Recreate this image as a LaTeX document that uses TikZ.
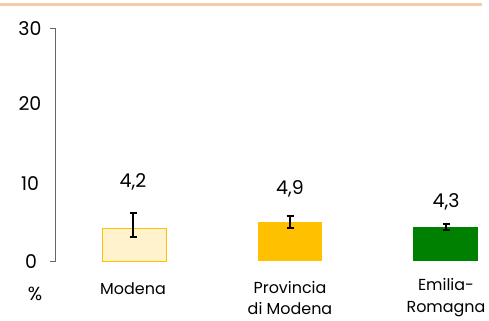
\documentclass[tikz,border=0pt]{standalone}
\usepackage{fontspec}
\setmainfont{Poppins}
\definecolor{toprule}{HTML}{F4CCAC}
\definecolor{paleyellow}{HTML}{FFF2CC}
\definecolor{gold}{HTML}{FFC000}
\definecolor{darkgreen}{HTML}{008000}
\tikzset{
  ticklabel/.style={anchor=center, font=\fontsize{19}{21}\selectfont},
  valuelabel/.style={anchor=center, font=\fontsize{19}{21}\selectfont},
  catlabel/.style={anchor=center, align=center, font=\fontsize{16}{22}\selectfont},
  errbar/.style={black, line width=1.1pt},
}
\begin{document}
\begin{tikzpicture}[x=1bp, y=-1bp]
    \useasboundingbox (0,0) rectangle (489,320);
    % linea in alto
    \draw[toprule, line width=2.5pt] (0,4.5) -- (482,4.5);

    % asse verticale
    \draw[gray!80!black, line width=0.8pt] (50,28) -- (55,28) -- (55,261) -- (50,261);
    \node[ticklabel] (t30) at (30,29) {30};
    \node[ticklabel] (t20) at (30,104) {20};
    \node[ticklabel] (t10) at (30,184) {10};
    \node[ticklabel] (t0) at (31,262) {0};
    \node[ticklabel, font=\fontsize{19}{21}\selectfont] (pct) at (35,294) {\%};

    % Modena
    \draw[gold, fill=paleyellow, line width=1pt] (102,228) rectangle (166,261);
    \draw[errbar] (133,213) -- (133,237);
    \draw[errbar] (129.5,213) -- (136.5,213);
    \draw[errbar] (129.5,237) -- (136.5,237);
    \node[valuelabel] (v1) at (133,182) {4,2};
    \node[catlabel] (c1) at (133,289) {Modena};

    % Provincia di Modena
    \fill[gold] (258,222) rectangle (322,261);
    \draw[errbar] (290,216) -- (290,228);
    \draw[errbar] (286.5,216) -- (293.5,216);
    \draw[errbar] (286.5,228) -- (293.5,228);
    \node[valuelabel] (v2) at (290,189) {4,9};
    \node[catlabel] (c2) at (290,298) {Provincia\\di Modena};

    % Emilia-Romagna
    \fill[darkgreen] (413,227) rectangle (478,261);
    \draw[errbar] (446,224) -- (446,230);
    \draw[errbar] (442.5,224) -- (449.5,224);
    \draw[errbar] (442.5,230) -- (449.5,230);
    \node[valuelabel] (v3) at (446,202) {4,3};
    \node[catlabel] (c3) at (446,298) {Emilia-\\Romagna};
\end{tikzpicture}
\end{document}
